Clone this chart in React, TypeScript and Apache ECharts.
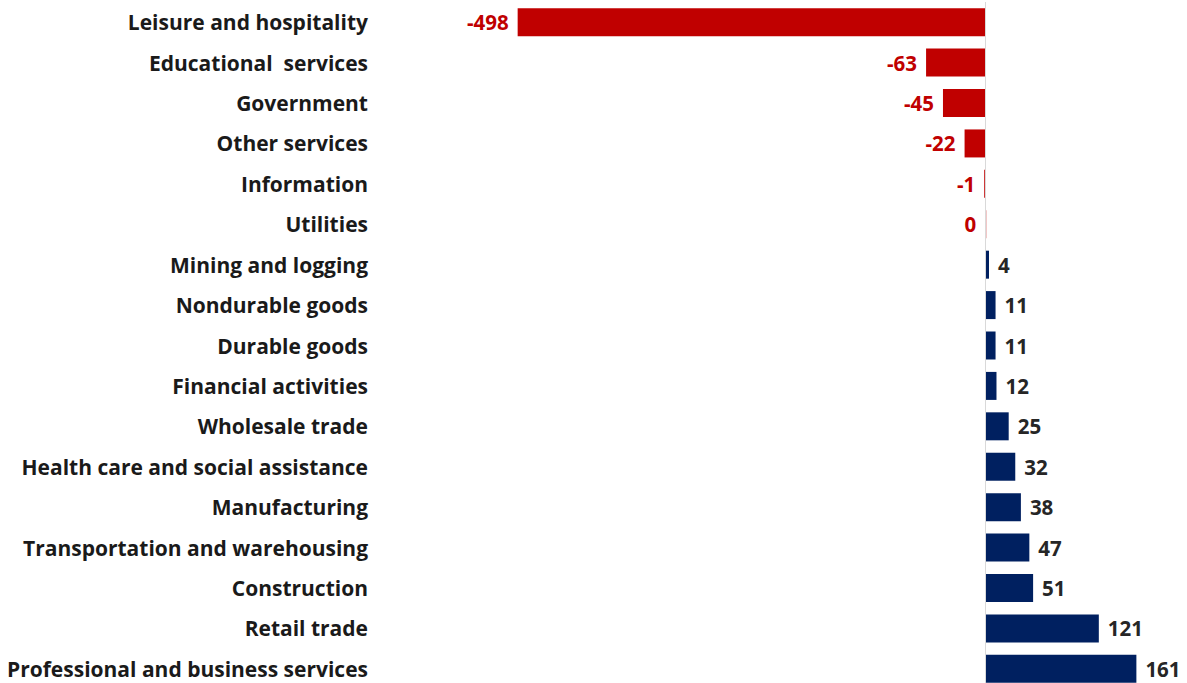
import React, { useEffect, useRef } from "react";
import * as echarts from "echarts";

const categories = [
  "Leisure and hospitality",
  "Educational  services",
  "Government",
  "Other services",
  "Information",
  "Utilities",
  "Mining and logging",
  "Nondurable goods",
  "Durable goods",
  "Financial activities",
  "Wholesale trade",
  "Health care and social assistance",
  "Manufacturing",
  "Transportation and warehousing",
  "Construction",
  "Retail trade",
  "Professional and business services",
];

const values = [-498, -63, -45, -22, -1, 0, 4, 11, 11, 12, 25, 32, 38, 47, 51, 121, 161];

const RED = "#C00000";
const NAVY = "#002060";
const FONT = "Open Sans";

export default function App() {
  const ref = useRef<HTMLDivElement>(null);
  useEffect(() => {
    if (!ref.current) return;
    const chart = echarts.init(ref.current, null, { renderer: "svg" });
    const data = values.map((v, i) => {
      const neg = i < 6;
      return {
        value: v,
        itemStyle: { color: neg ? RED : NAVY },
        label: {
          show: true,
          position: neg ? "left" : "right",
          distance: 9,
          color: neg ? RED : "#262626",
          fontFamily: FONT,
          fontWeight: 700,
          fontSize: 20.5,
          formatter: String(v),
        },
      };
    });
    chart.setOption({
      animation: false,
      grid: { left: 497, right: 14, top: 2, height: 687, containLabel: false },
      xAxis: {
        type: "value",
        min: -520,
        max: 200,
        show: false,
        splitLine: { show: false },
      },
      yAxis: {
        type: "category",
        data: categories,
        inverse: true,
        axisLine: { show: false },
        axisTick: { show: false },
        axisLabel: {
          margin: 129,
          color: "#1a1a1a",
          fontFamily: FONT,
          fontWeight: 700,
          fontSize: 21,
        },
      },
      series: [
        {
          type: "bar",
          data,
          barWidth: 28,
          barMinHeight: 1,
          markLine: {
            silent: true,
            symbol: "none",
            label: { show: false },
            lineStyle: { color: "#d9d9d9", type: "solid", width: 1 },
            data: [{ xAxis: 0 }],
          },
        },
      ],
    });
    return () => chart.dispose();
  }, []);
  return (
    <div style={{ position: "fixed", left: 0, top: 0, width: 1187, height: 683, overflow: "hidden", background: "#fff" }}>
      <div ref={ref} style={{ width: 1187, height: 700 }} />
    </div>
  );
}
